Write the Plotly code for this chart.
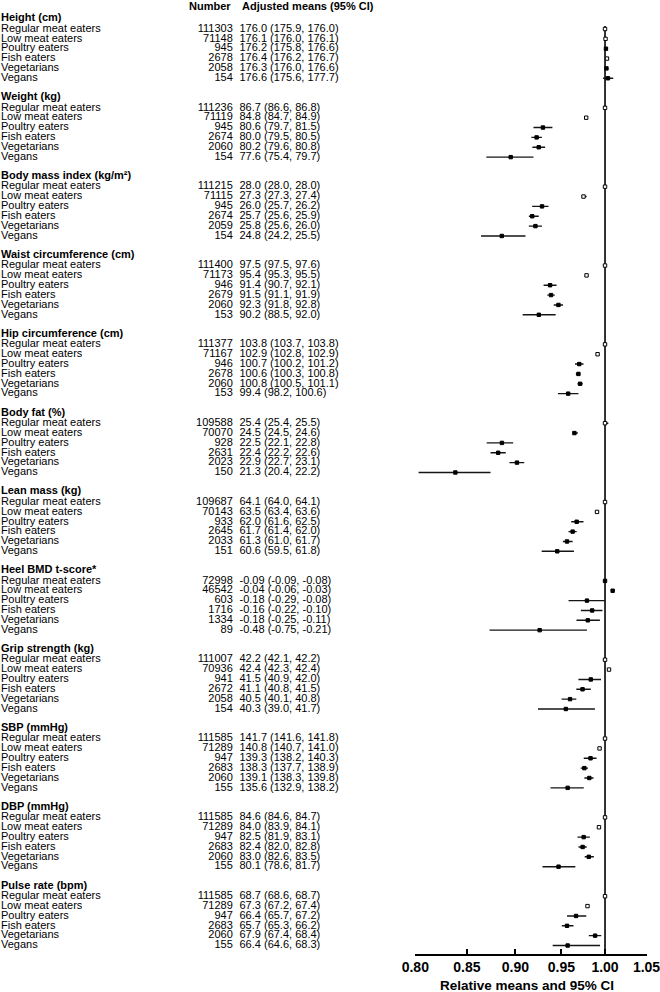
import plotly.graph_objects as go
import math

# ---------------- data ----------------
measures = ["Height (cm)", "Weight (kg)", "Body mass index (kg/m²)", "Waist circumference (cm)",
            "Hip circumference (cm)", "Body fat (%)", "Lean mass (kg)", "Heel BMD t-score*",
            "Grip strength (kg)", "SBP (mmHg)", "DBP (mmHg)", "Pulse rate (bpm)"]
diets = ["Regular meat eaters", "Low meat eaters", "Poultry eaters", "Fish eaters", "Vegetarians", "Vegans"]

numbers = [
    [111303, 71148, 945, 2678, 2058, 154],
    [111236, 71119, 945, 2674, 2060, 154],
    [111215, 71115, 945, 2674, 2059, 154],
    [111400, 71173, 946, 2679, 2060, 153],
    [111377, 71167, 946, 2678, 2060, 153],
    [109588, 70070, 928, 2631, 2023, 150],
    [109687, 70143, 933, 2645, 2033, 151],
    [72998, 46542, 603, 1716, 1334, 89],
    [111007, 70936, 941, 2672, 2058, 154],
    [111585, 71289, 947, 2683, 2060, 155],
    [111585, 71289, 947, 2683, 2060, 155],
    [111585, 71289, 947, 2683, 2060, 155],
]
adj_mean = [
    [176.0, 176.1, 176.2, 176.4, 176.3, 176.6],
    [86.7, 84.8, 80.6, 80.0, 80.2, 77.6],
    [28.0, 27.3, 26.0, 25.7, 25.8, 24.8],
    [97.5, 95.4, 91.4, 91.5, 92.3, 90.2],
    [103.8, 102.9, 100.7, 100.6, 100.8, 99.4],
    [25.4, 24.5, 22.5, 22.4, 22.9, 21.3],
    [64.1, 63.5, 62.0, 61.7, 61.3, 60.6],
    [-0.09, -0.04, -0.18, -0.16, -0.18, -0.48],
    [42.2, 42.4, 41.5, 41.1, 40.5, 40.3],
    [141.7, 140.8, 139.3, 138.3, 139.1, 135.6],
    [84.6, 84.0, 82.5, 82.4, 83.0, 80.1],
    [68.7, 67.3, 66.4, 65.7, 67.9, 66.4],
]
adj_lo = [
    [175.9, 176.0, 175.8, 176.2, 176.0, 175.6],
    [86.6, 84.7, 79.7, 79.5, 79.6, 75.4],
    [28.0, 27.3, 25.7, 25.6, 25.6, 24.2],
    [97.5, 95.3, 90.7, 91.1, 91.8, 88.5],
    [103.7, 102.8, 100.2, 100.3, 100.5, 98.2],
    [25.4, 24.5, 22.1, 22.2, 22.7, 20.4],
    [64.0, 63.4, 61.6, 61.4, 61.0, 59.5],
    [-0.09, -0.06, -0.29, -0.22, -0.25, -0.75],
    [42.1, 42.3, 40.9, 40.8, 40.1, 39.0],
    [141.6, 140.7, 138.2, 137.7, 138.3, 132.9],
    [84.6, 83.9, 81.9, 82.0, 82.6, 78.6],
    [68.6, 67.2, 65.7, 65.3, 67.4, 64.6],
]
adj_hi = [
    [176.0, 176.1, 176.6, 176.7, 176.6, 177.7],
    [86.8, 84.9, 81.5, 80.5, 80.8, 79.7],
    [28.0, 27.4, 26.2, 25.9, 26.0, 25.5],
    [97.6, 95.5, 92.1, 91.9, 92.8, 92.0],
    [103.8, 102.9, 101.2, 100.8, 101.1, 100.6],
    [25.5, 24.6, 22.8, 22.6, 23.1, 22.2],
    [64.1, 63.6, 62.5, 62.0, 61.7, 61.8],
    [-0.08, -0.03, -0.08, -0.10, -0.11, -0.21],
    [42.2, 42.4, 42.0, 41.5, 40.8, 41.7],
    [141.8, 141.0, 140.3, 138.9, 139.8, 138.2],
    [84.7, 84.1, 83.1, 82.8, 83.5, 81.7],
    [68.7, 67.4, 67.2, 66.2, 68.4, 68.3],
]
decimals = [1, 1, 1, 1, 1, 1, 1, 2, 1, 1, 1, 1]

# relative means and 95% CI
rel_mean = [
    [1.000, 1.0006, 1.0011, 1.0023, 1.0017, 1.0034],
    [1.000, 0.9781, 0.9296, 0.9227, 0.9250, 0.8950],
    [1.000, 0.9750, 0.9286, 0.9179, 0.9214, 0.8857],
    [1.000, 0.9785, 0.9374, 0.9385, 0.9467, 0.9251],
    [1.000, 0.9913, 0.9701, 0.9692, 0.9711, 0.9576],
    [1.000, 0.9646, 0.8858, 0.8819, 0.9016, 0.8386],
    [1.000, 0.9906, 0.9672, 0.9626, 0.9563, 0.9454],
    [1.000, 1.0090, 0.9790, 0.9850, 0.9800, 0.9260],
    [1.000, 1.0047, 0.9834, 0.9739, 0.9597, 0.9550],
    [1.000, 0.9936, 0.9831, 0.9760, 0.9817, 0.9570],
    [1.000, 0.9929, 0.9752, 0.9740, 0.9811, 0.9468],
    [1.000, 0.9796, 0.9665, 0.9563, 0.9884, 0.9570],
]
rel_lo = [
    [0.9994, 1.0000, 0.9989, 1.0011, 1.0000, 0.9977],
    [0.9988, 0.9769, 0.9193, 0.9170, 0.9181, 0.8697],
    [1.0000, 0.9750, 0.9179, 0.9143, 0.9143, 0.8643],
    [1.0000, 0.9774, 0.9303, 0.9344, 0.9415, 0.9077],
    [0.9990, 0.9904, 0.9653, 0.9663, 0.9682, 0.9461],
    [1.0000, 0.9646, 0.8701, 0.8740, 0.8937, 0.8031],
    [0.9984, 0.9891, 0.9610, 0.9579, 0.9516, 0.9282],
    [0.9990, 1.0070, 0.9580, 0.9720, 0.9670, 0.8730],
    [0.9976, 1.0024, 0.9692, 0.9668, 0.9502, 0.9242],
    [0.9993, 0.9929, 0.9753, 0.9718, 0.9760, 0.9379],
    [1.0000, 0.9917, 0.9681, 0.9693, 0.9764, 0.9291],
    [0.9985, 0.9782, 0.9563, 0.9505, 0.9811, 0.9403],
]
rel_hi = [
    [1.0000, 1.0006, 1.0034, 1.0040, 1.0034, 1.0097],
    [1.0012, 0.9792, 0.9400, 0.9285, 0.9320, 0.9193],
    [1.0000, 0.9786, 0.9357, 0.9250, 0.9286, 0.9107],
    [1.0010, 0.9795, 0.9446, 0.9426, 0.9518, 0.9436],
    [1.0000, 0.9913, 0.9750, 0.9711, 0.9740, 0.9692],
    [1.0039, 0.9685, 0.8976, 0.8898, 0.9094, 0.8740],
    [1.0000, 0.9922, 0.9750, 0.9672, 0.9626, 0.9641],
    [1.0010, 1.0110, 1.0000, 0.9970, 0.9940, 0.9790],
    [1.0000, 1.0047, 0.9953, 0.9834, 0.9668, 0.9882],
    [1.0007, 0.9951, 0.9901, 0.9802, 0.9866, 0.9753],
    [1.0012, 0.9941, 0.9823, 0.9787, 0.9870, 0.9657],
    [1.0000, 0.9811, 0.9782, 0.9636, 0.9956, 0.9942],
]
tick_vals = [0.80, 0.85, 0.90, 0.95, 1.00, 1.05]

# ---------------- layout helpers (pixels from top) ----------------
W, H = 660, 992
AXIS_Y = 953.5
Y0 = 29.0
ROW = 9.855
GROUP = 8 * ROW

def row_y(g, k):
    return Y0 + g * GROUP + k * ROW

def head_y(g):
    return Y0 + g * GROUP - 10.3

# hollow markers (style)
hollow = set()
for g in range(len(measures)):
    if g != 7:
        hollow.add((g, 0))
        if g != 5:
            hollow.add((g, 1))
hollow.add((0, 3))

FONT = "Liberation Sans, Arial, Helvetica, sans-serif"

fig = go.Figure()

# reference line at 1
fig.add_trace(go.Scatter(x=[1.0, 1.0], y=[26, AXIS_Y], mode="lines",
                         line=dict(color="black", width=1.6), hoverinfo="skip",
                         showlegend=False, xaxis="x", yaxis="y"))

xs, ys, ep, em, mcol = [], [], [], [], []
for g in range(len(measures)):
    for k in range(len(diets)):
        m = rel_mean[g][k]
        xs.append(m)
        ys.append(row_y(g, k))
        ep.append(max(rel_hi[g][k] - m, 0))
        em.append(max(m - rel_lo[g][k], 0))
        mcol.append("white" if (g, k) in hollow else "black")

fig.add_trace(go.Scatter(
    x=xs, y=ys, mode="markers",
    marker=dict(symbol="square", size=3.4, color=mcol, line=dict(color="black", width=1)),
    error_x=dict(type="data", symmetric=False, array=ep, arrayminus=em,
                 width=0, thickness=1.4, color="#151515"),
    showlegend=False, xaxis="x", yaxis="y", hoverinfo="skip"))

# text columns
lab_y, lab_t = [], []
num_y, num_t = [], []
mean_y, mean_t = [], []
for g in range(len(measures)):
    lab_y.append(head_y(g)); lab_t.append("<b>" + measures[g] + "</b>")
    d = decimals[g]
    for k in range(len(diets)):
        y = row_y(g, k)
        lab_y.append(y); lab_t.append(diets[k])
        num_y.append(y); num_t.append(str(numbers[g][k]))
        mean_y.append(y)
        mean_t.append(f"{adj_mean[g][k]:.{d}f} ({adj_lo[g][k]:.{d}f}, {adj_hi[g][k]:.{d}f})")

tf = dict(family=FONT, size=11, color="black")
fig.add_trace(go.Scatter(x=[1.0] * len(lab_y), y=lab_y, text=lab_t, mode="text",
                         textposition="middle right", textfont=tf, showlegend=False,
                         xaxis="x2", yaxis="y", hoverinfo="skip", cliponaxis=False))
fig.add_trace(go.Scatter(x=[232.8] * len(num_y), y=num_y, text=num_t, mode="text",
                         textposition="middle left", textfont=tf, showlegend=False,
                         xaxis="x2", yaxis="y", hoverinfo="skip", cliponaxis=False))
fig.add_trace(go.Scatter(x=[239.5] * len(mean_y), y=mean_y, text=mean_t, mode="text",
                         textposition="middle right", textfont=tf, showlegend=False,
                         xaxis="x2", yaxis="y", hoverinfo="skip", cliponaxis=False))

# column headers
fig.add_annotation(x=232.8, y=5.5, xref="x2", yref="y", text="<b>Number</b>", showarrow=False,
                   xanchor="right", yanchor="middle", font=tf)
fig.add_annotation(x=239.5, y=5.5, xref="x2", yref="y", text="<b>Adjusted means (95% CI)</b>",
                   showarrow=False, xanchor="left", yanchor="middle", font=tf)
# axis title
fig.add_annotation(x=527 / W, y=1 - 985.5 / H, xref="paper", yref="paper",
                   text="<b>Relative means and 95% CI</b>", showarrow=False,
                   xanchor="center", yanchor="middle",
                   font=dict(family=FONT, size=13.5, color="black"))

fig.update_layout(
    width=W, height=H, margin=dict(l=0, r=0, t=0, b=0, pad=0),
    paper_bgcolor="white", plot_bgcolor="rgba(0,0,0,0)", showlegend=False,
    xaxis=dict(type="log", range=[math.log10(0.80), math.log10(1.05)],
               domain=[415.3 / W, 646.5 / W], anchor="y",
               showline=True, linecolor="black", linewidth=1.6,
               ticks="inside", ticklen=5, tickwidth=1.5, tickcolor="black",
               tickvals=tick_vals, ticktext=[f"<b>{v:.2f}</b>" for v in tick_vals],
               tickfont=dict(family=FONT, size=14, color="black"),
               ticklabeloverflow="allow",
               showgrid=False, zeroline=False, automargin=False),
    xaxis2=dict(range=[0, W], domain=[0, 1], anchor="y", visible=False,
                showgrid=False, zeroline=False),
    yaxis=dict(range=[AXIS_Y, 0], domain=[1 - AXIS_Y / H, 1], visible=False,
               showgrid=False, zeroline=False),
)

fig.write_html("out.html", config={"displayModeBar": False},
               post_script="document.body.style.margin='0px';document.body.style.padding='0px';")
